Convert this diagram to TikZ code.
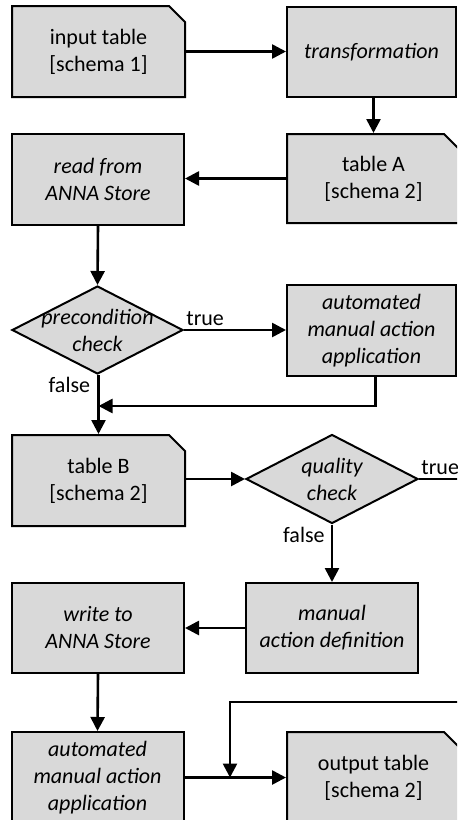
\documentclass[tikz,border=0pt]{standalone}
\usepackage{fontspec}
\setmainfont{Carlito}
\usetikzlibrary{arrows.meta,shapes.geometric,shapes.misc}
\definecolor{boxgray}{RGB}{217,217,217}
\newcommand{\flowfont}{\fontsize{11}{13.5}\selectfont}
\tikzset{
  base/.style={draw, line width=1pt, fill=boxgray, inner sep=0pt, align=center, font=\flowfont},
  doc/.style={base, chamfered rectangle, chamfered rectangle corners=north east,
    chamfered rectangle xsep=4pt, chamfered rectangle ysep=4pt,
    minimum width=86.5pt, minimum height=45.5pt},
  proc/.style={base, rectangle, minimum width=86pt, minimum height=45.5pt, font=\flowfont\itshape},
  decision/.style={base, diamond, minimum width=85.5pt, minimum height=44pt},
  dtext/.style={align=center, inner sep=0pt, font=\flowfont\itshape},
  lbl/.style={inner sep=0pt, font=\flowfont},
  wire/.style={line width=1.3pt},
  conn/.style={wire, ->}
}
\begin{document}
\begin{tikzpicture}[x=0.5pt, y=-0.5pt, >={Triangle[length=7pt,width=7pt]}]
\useasboundingbox (0,0) rectangle (457,820);
\clip (0,0) rectangle (457,820);
% boxes
\node[doc] (inp) at (98.5,51.5) {input table\\{}[schema 1]};
\node[proc, minimum width=84.5pt, minimum height=45pt] (trans) at (371.5,52) {transformation};
\node[doc, minimum height=44.5pt] (tabA) at (373.5,178.5) {table A\\{}[schema 2]};
\node[proc] (read) at (98,179.5) {read from\\ANNA Store};
\node[decision] (prec) at (97.5,330) {};
\node[dtext] (prectxt) at (prec) {precondition\\check};
\node[proc, minimum width=84.5pt] (auto1) at (371.5,330.5) {automated\\manual action\\application};
\node[doc] (tabB) at (98.5,480.5) {table B\\{}[schema 2]};
\node[decision, minimum width=86pt, minimum height=44.5pt] (qual) at (332,479) {};
\node[dtext] (qualtxt) at (qual) {quality\\check};
\node[proc, minimum height=45pt] (write) at (98,628) {write to\\ANNA Store};
\node[proc, minimum height=45pt] (mad) at (332,628) {manual\\action definition};
\node[proc] (auto2) at (97.5,777.5) {automated\\manual action\\application};
\node[doc] (out) at (373.5,777.5) {output table\\{}[schema 2]};
% labels
\node[lbl, anchor=south west] (t1) at ([shift={(1pt,2pt)}]prec.east) {true};
\node[lbl, anchor=north east] (f1) at ([shift={(-3.5pt,-1pt)}]prec.south) {false};
\node[lbl, anchor=south west] (t2) at ([shift={(1pt,2pt)}]qual.east) {true};
\node[lbl, anchor=north east] (f2) at ([shift={(-3.5pt,-1pt)}]qual.south) {false};
% connectors
\coordinate (merge) at (98.5,406);
\coordinate (qexit) at (470,479);
\coordinate (back) at (470,702);
\coordinate (join) at (230,777.5);
\draw[conn] (inp.east) -- (inp.east -| trans.west);
\draw[conn] (tabA.north |- trans.south) -- (tabA.north);
\draw[conn] (tabA.west) -- (read.east |- tabA.west);
\draw[conn] (read.south) -- (prec.north);
\draw[conn] (prec.east) -- (auto1.west |- prec.east);
\draw[conn] (tabB.north |- prec.south) -- (tabB.north);
\draw[conn] ([xshift=2pt]auto1.south) |- (merge);
\draw[conn] (tabB.east |- qual.west) -- (qual.west);
\draw[wire] (qual.east) -- (qexit);
\draw[conn] (qual.south) -- (mad.north);
\draw[conn] (mad.west) -- (write.east);
\draw[conn] (write.south) -- (auto2.north);
\draw[conn] (auto2.east) -- (auto2.east -| out.west);
\draw[conn] (back) -| (join);
\end{tikzpicture}
\end{document}
